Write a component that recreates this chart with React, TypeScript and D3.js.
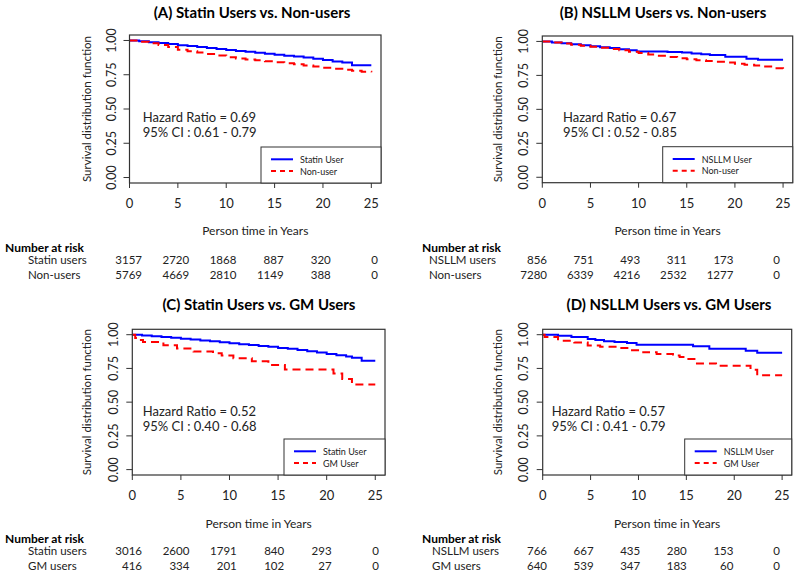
import React from "react";
import * as d3 from "d3";

type Pt = [number, number];

// ---------- DATA ----------
const riskTimes = [0, 5, 10, 15, 20, 25];
const xTicks = [0, 5, 10, 15, 20, 25];
const yTicks = [0, 0.25, 0.5, 0.75, 1.0];

const titles = [
  "(A) Statin Users vs. Non-users",
  "(B) NSLLM Users vs. Non-users",
  "(C) Statin Users vs. GM Users",
  "(D) NSLLM Users vs. GM Users",
];
const legendLabels = [
  ["Statin User", "Non-user"],
  ["NSLLM User", "Non-user"],
  ["Statin User", "GM User"],
  ["NSLLM User", "GM User"],
];
const hazardRatios = ["0.69", "0.67", "0.52", "0.57"];
const ciLabels = ["0.61 - 0.79", "0.52 - 0.85", "0.40 - 0.68", "0.41 - 0.79"];
const riskRowNames = [
  ["Statin users", "Non-users"],
  ["NSLLM users", "Non-users"],
  ["Statin users", "GM users"],
  ["NSLLM users", "GM users"],
];
const riskA1 = [3157, 2720, 1868, 887, 320, 0];
const riskA2 = [5769, 4669, 2810, 1149, 388, 0];
const riskB1 = [856, 751, 493, 311, 173, 0];
const riskB2 = [7280, 6339, 4216, 2532, 1277, 0];
const riskC1 = [3016, 2600, 1791, 840, 293, 0];
const riskC2 = [416, 334, 201, 102, 27, 0];
const riskD1 = [766, 667, 435, 280, 153, 0];
const riskD2 = [640, 539, 347, 183, 60, 0];

const survA1: Pt[] = [
  [0, 1], [1, 0.994], [2, 0.988], [3, 0.982], [4, 0.974], [5, 0.966], [6, 0.96], [7, 0.953],
  [8, 0.946], [9, 0.938], [10, 0.93], [11, 0.923], [12, 0.917], [13, 0.91], [14, 0.903],
  [15, 0.895], [16, 0.889], [17, 0.883], [18, 0.875], [19, 0.867], [20, 0.858], [21, 0.846],
  [22, 0.84], [23, 0.82], [25, 0.82],
];
const survA2: Pt[] = [
  [0, 1], [1, 0.99], [2, 0.979], [3, 0.967], [4, 0.952], [5, 0.933], [6, 0.922], [7, 0.912],
  [8, 0.902], [9, 0.89], [10, 0.878], [11, 0.868], [12, 0.861], [13, 0.855], [14, 0.849],
  [15, 0.841], [16, 0.834], [17, 0.826], [18, 0.818], [19, 0.81], [20, 0.801], [21, 0.793],
  [22, 0.786], [23, 0.779], [24, 0.771], [25, 0.768],
];
const survB1: Pt[] = [
  [0, 1], [1, 0.993], [2, 0.986], [3, 0.979], [4, 0.972], [5, 0.965], [6, 0.958], [7, 0.951],
  [8, 0.943], [9, 0.935], [9.8, 0.926], [13, 0.922], [14.5, 0.918], [15.5, 0.912], [16.5, 0.906],
  [17.4, 0.9], [19, 0.887], [21.2, 0.872], [22.4, 0.865], [25, 0.865],
];
const survB2: Pt[] = [
  [0, 1], [1, 0.992], [2, 0.984], [3, 0.975], [4, 0.968], [5, 0.961], [6, 0.954], [7, 0.945],
  [8, 0.935], [9, 0.924], [10, 0.914], [11, 0.903], [12, 0.894], [13, 0.885], [14, 0.877],
  [15, 0.869], [16, 0.862], [17, 0.856], [18, 0.85], [19, 0.844], [20, 0.836], [21, 0.829],
  [22, 0.822], [23, 0.815], [24, 0.803], [25, 0.794],
];
const survC1: Pt[] = [
  [0, 1], [1, 0.994], [2, 0.988], [3, 0.983], [4, 0.977], [5, 0.97], [6, 0.964], [7, 0.957],
  [8, 0.951], [9, 0.944], [10, 0.937], [11, 0.93], [12, 0.923], [13, 0.917], [14, 0.91],
  [15, 0.902], [16, 0.895], [17, 0.887], [18, 0.878], [19, 0.868], [20, 0.857], [21, 0.847],
  [22, 0.838], [22.6, 0.83], [23.6, 0.806], [25, 0.806],
];
const survC2: Pt[] = [
  [0, 1], [0.3, 0.975], [0.7, 0.96], [1.1, 0.946], [3.2, 0.922], [4.6, 0.897], [6.3, 0.875],
  [8.3, 0.862], [9.2, 0.845], [10.4, 0.825], [12.3, 0.803], [14, 0.776], [15.7, 0.742],
  [20.7, 0.713], [21.6, 0.672], [22.6, 0.63], [25, 0.63],
];
const survD1: Pt[] = [
  [0, 1], [1.6, 0.993], [3, 0.983], [4.7, 0.968], [5.5, 0.96], [6.4, 0.951], [7.5, 0.945],
  [8.8, 0.938], [9.8, 0.926], [15.7, 0.914], [17.4, 0.896], [21.2, 0.881], [22.4, 0.866], [25, 0.866],
];
const survD2: Pt[] = [
  [0, 1], [0.2, 0.983], [1.6, 0.956], [3.3, 0.943], [4.7, 0.919], [6, 0.91], [7.8, 0.901],
  [9.2, 0.884], [10.5, 0.869], [11.9, 0.857], [13.6, 0.845], [14.3, 0.835], [15.1, 0.82],
  [16, 0.787], [18.1, 0.77], [21.7, 0.741], [22.4, 0.699], [25, 0.699],
];

const curves = [
  [survA1, survA2],
  [survB1, survB2],
  [survC1, survC2],
  [survD1, survD2],
];
const risks = [
  [riskA1, riskA2],
  [riskB1, riskB2],
  [riskC1, riskC2],
  [riskD1, riskD2],
];

// ---------- LAYOUT ----------
const layouts = [
  { left: 129.5, right: 381, top: 35, bottom: 183, titleX: 252, titleY: 12, ylabX: 86, ytickX: 111, hrX: 142.7, hrY: 117, legW: 120, legH: 36, riskLab: 5, riskRow: 28, riskC0: 142, riskC1: 378, xTitleY: 230, riskY: 247 },
  { left: 542.3, right: 792.7, top: 36, bottom: 182.7, titleX: 663, titleY: 12, ylabX: 497, ytickX: 523, hrX: 563, hrY: 117, legW: 130, legH: 36, riskLab: 422, riskRow: 429, riskC0: 547, riskC1: 780, xTitleY: 230, riskY: 247 },
  { left: 132.3, right: 385, top: 329.3, bottom: 475, titleX: 259, titleY: 304, ylabX: 86, ytickX: 113, hrX: 142.7, hrY: 410.7, legW: 101, legH: 36, riskLab: 5, riskRow: 28, riskC0: 142, riskC1: 379, xTitleY: 523, riskY: 538 },
  { left: 542.7, right: 791.7, top: 329.3, bottom: 475, titleX: 669, titleY: 304, ylabX: 497, ytickX: 523, hrX: 551.7, hrY: 410.7, legW: 107, legH: 36, riskLab: 422, riskRow: 432, riskC0: 547, riskC1: 780, xTitleY: 523, riskY: 538 },
];

const FONT = "Lato, 'Open Sans', sans-serif";
const BLUE = "#0000ff";
const RED = "#ff0000";

function Panel({ i }: { i: number }) {
  const L = layouts[i];
  const x = d3.scaleLinear().domain([0, 26]).range([L.left, L.right]);
  const y = d3.scaleLinear().domain([-0.04, 1.04]).range([L.bottom, L.top]);
  const line = d3
    .line<Pt>()
    .x((d) => x(d[0]))
    .y((d) => y(d[1]))
    .curve(d3.curveStepAfter);
  const rx = d3.scaleLinear().domain([0, 25]).range([L.riskC0, L.riskC1]);
  const midY = (L.top + L.bottom) / 2;
  const legX = L.right - L.legW;
  const legY = L.bottom - L.legH;
  return (
    <g fontFamily={FONT}>
      <text x={L.titleX} y={L.titleY} textAnchor="middle" dominantBaseline="central" fontWeight="bold" fontSize={15} fill="#000">
        {titles[i]}
      </text>
      {/* curves */}
      <path d={line(curves[i][0]) || ""} fill="none" stroke={BLUE} strokeWidth={2} />
      <path d={line(curves[i][1]) || ""} fill="none" stroke={RED} strokeWidth={2} strokeDasharray="8,5" />
      {/* frame */}
      <rect x={L.left} y={L.top} width={L.right - L.left} height={L.bottom - L.top} fill="none" stroke="#333" strokeWidth={1.2} />
      {/* y axis */}
      {yTicks.map((t) => (
        <g key={"y" + t}>
          <line x1={L.left - 6} x2={L.left} y1={y(t)} y2={y(t)} stroke="#333" strokeWidth={1} />
          <text
            transform={`translate(${L.ytickX},${y(t)}) rotate(-90)`}
            textAnchor="middle"
            dominantBaseline="central"
            fontSize={12.5}
            fill="#222"
          >
            {t.toFixed(2)}
          </text>
        </g>
      ))}
      <text transform={`translate(${L.ylabX},${midY}) rotate(-90)`} textAnchor="middle" dominantBaseline="central" fontSize={11.5} fill="#222">
        Survival distribution function
      </text>
      {/* x axis */}
      {xTicks.map((t) => (
        <g key={"x" + t}>
          <line x1={x(t)} x2={x(t)} y1={L.bottom} y2={L.bottom + 5} stroke="#333" strokeWidth={1} />
          <text x={x(t)} y={L.bottom + 20} textAnchor="middle" dominantBaseline="central" fontSize={13} fill="#222">
            {t}
          </text>
        </g>
      ))}
      <text x={x(13)} y={L.xTitleY} textAnchor="middle" dominantBaseline="central" fontSize={12} fill="#222">
        Person time in Years
      </text>
      {/* hazard ratio */}
      <text x={L.hrX} y={L.hrY} dominantBaseline="central" fontSize={13} fill="#222">
        {`Hazard Ratio = ${hazardRatios[i]}`}
      </text>
      <text x={L.hrX} y={L.hrY + 15} dominantBaseline="central" fontSize={13} fill="#222">
        {`95% CI : ${ciLabels[i]}`}
      </text>
      {/* legend */}
      <rect x={legX} y={legY} width={L.legW} height={L.legH} fill="#fff" stroke="#333" strokeWidth={1} />
      <line x1={legX + 10} x2={legX + 32} y1={legY + 12.3} y2={legY + 12.3} stroke={BLUE} strokeWidth={2} />
      <line x1={legX + 10} x2={legX + 32} y1={legY + 24} y2={legY + 24} stroke={RED} strokeWidth={2} strokeDasharray="5,4" />
      <text x={legX + 39} y={legY + 12.3} dominantBaseline="central" fontSize={9} fill="#222">
        {legendLabels[i][0]}
      </text>
      <text x={legX + 39} y={legY + 24} dominantBaseline="central" fontSize={9} fill="#222">
        {legendLabels[i][1]}
      </text>
      {/* risk table */}
      <text x={L.riskLab} y={L.riskY} dominantBaseline="central" fontWeight="bold" fontSize={12} fill="#000">
        Number at risk
      </text>
      {[0, 1].map((r) => (
        <g key={"r" + r}>
          <text x={L.riskRow} y={L.riskY + 12.5 + r * 15} dominantBaseline="central" fontSize={11.5} fill="#222">
            {riskRowNames[i][r]}
          </text>
          {riskTimes.map((t, k) => (
            <text key={k} x={rx(t)} y={L.riskY + 12.5 + r * 15} textAnchor="end" dominantBaseline="central" fontSize={11.5} fill="#222">
              {risks[i][r][k]}
            </text>
          ))}
        </g>
      ))}
    </g>
  );
}

export default function App() {
  return (
    <svg width={800} height={577} style={{ position: "absolute", left: 0, top: 0, background: "#fff" }}>
      <rect width={800} height={577} fill="#fff" />
      {[0, 1, 2, 3].map((i) => (
        <Panel key={i} i={i} />
      ))}
    </svg>
  );
}
